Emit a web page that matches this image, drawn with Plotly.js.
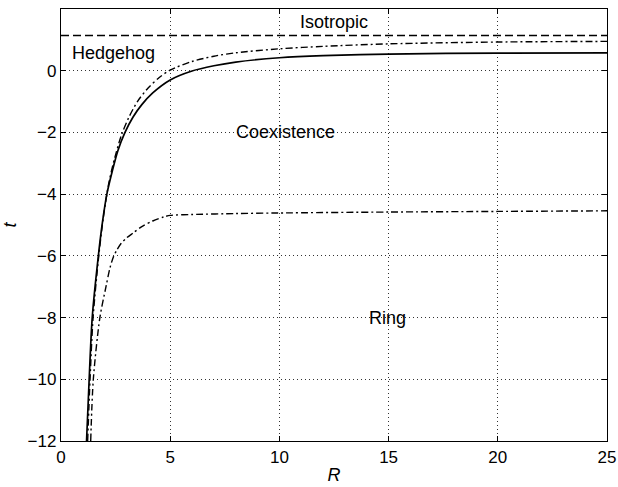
<!DOCTYPE html>
<html>
<head>
<meta charset="utf-8">
<script src="https://cdn.plot.ly/plotly-3.0.1.min.js"></script>
<style>
  html, body { margin: 0; padding: 0; background: #fff; }
  #chart { width: 618px; height: 487px; }
</style>
</head>
<body>
<div id="chart"></div>
<script>
// Phase diagram in the (R, t) plane: boundaries between Hedgehog, Coexistence, Ring and Isotropic.

// Isotropic transition (horizontal dashed line)
const isoR = [0, 25];
const isoT = [1.14, 1.14];

// Hedgehog / Coexistence boundary (solid)
const solidR = [1.17, 1.29, 1.43, 1.71, 1.9, 2.1, 2.35, 2.6, 2.93, 3.3, 3.7, 4.2, 5.0, 6.0, 7.0, 8.0, 10, 12, 15, 20, 25];
const solidT = [-12, -10, -8, -6, -4.9, -4.0, -3.25, -2.6, -2.0, -1.5, -1.1, -0.72, -0.3, -0.01, 0.16, 0.28, 0.42, 0.49, 0.54, 0.57, 0.58];

// Upper dash-dot boundary
const upperR = [1.22, 1.33, 1.47, 1.73, 1.95, 2.2, 2.47, 2.77, 3.1, 3.5, 4.0, 4.5, 5.0, 6.0, 7.0, 8.0, 10, 12, 15, 20, 25];
const upperT = [-12, -10, -8, -6, -4.7, -3.6, -2.8, -2.08, -1.52, -1.0, -0.55, -0.22, 0.02, 0.3, 0.47, 0.58, 0.71, 0.79, 0.87, 0.93, 0.95];

// Coexistence / Ring boundary (lower dash-dot)
const ringR = [1.36, 1.48, 1.78, 2.06, 2.24, 2.39, 2.55, 2.75, 3.0, 3.3, 3.7, 4.2, 4.7, 5.0, 6.0, 8.0, 10, 15, 20, 25];
const ringT = [-12, -10, -8, -7, -6.4, -6.05, -5.82, -5.6, -5.42, -5.26, -5.05, -4.87, -4.74, -4.69, -4.66, -4.63, -4.61, -4.58, -4.56, -4.54];

// Region labels
const regionNames = ['Isotropic', 'Hedgehog', 'Coexistence', 'Ring'];
const regionR = [12.48, 2.42, 10.29, 14.95];
const regionT = [1.59, 0.58, -2.0, -8.0];

const xTicks = [0, 5, 10, 15, 20, 25];
const yTicks = [-12, -10, -8, -6, -4, -2, 0, 2];

const font = 'Liberation Sans, Arial, Helvetica, sans-serif';
const dashDot = '7px,3px,2px,3px';

const traces = [
  { x: isoR, y: isoT, mode: 'lines', line: { color: '#000', width: 1.6, dash: '8px,4px' }, hoverinfo: 'skip' },
  { x: solidR, y: solidT, mode: 'lines', line: { color: '#000', width: 1.7, shape: 'spline', smoothing: 0.8 }, hoverinfo: 'skip' },
  { x: upperR, y: upperT, mode: 'lines', line: { color: '#000', width: 1.4, dash: dashDot, shape: 'spline', smoothing: 0.8 }, hoverinfo: 'skip' },
  { x: ringR, y: ringT, mode: 'lines', line: { color: '#000', width: 1.4, dash: dashDot, shape: 'spline', smoothing: 0.8 }, hoverinfo: 'skip' }
];

const axisCommon = {
  showline: true, linecolor: '#000', linewidth: 1.2, mirror: 'ticks',
  ticks: 'inside', ticklen: 5, tickcolor: '#000', tickwidth: 1.2,
  showgrid: true, gridcolor: '#333', griddash: '1px,3px', gridwidth: 1,
  zeroline: false,
  tickfont: { family: font, size: 17, color: '#000' }
};

const layout = {
  width: 618, height: 487,
  margin: { l: 61, r: 11, t: 9, b: 46 },
  paper_bgcolor: '#fff', plot_bgcolor: '#fff',
  showlegend: false,
  xaxis: Object.assign({}, axisCommon, {
    range: [0, 25], tickvals: xTicks, ticktext: xTicks.map(String),
    title: { text: '<i>R</i>', font: { family: font, size: 18, color: '#000' }, standoff: 2 }
  }),
  yaxis: Object.assign({}, axisCommon, {
    range: [-12, 2], tickvals: yTicks, ticktext: yTicks.map(v => v < 0 ? '\u2212' + Math.abs(v) : String(v)),
    title: { text: '<i>t</i>', font: { family: font, size: 18, color: '#000' }, standoff: 8 }
  }),
  annotations: regionNames.map((name, i) => ({
    x: regionR[i], y: regionT[i], xref: 'x', yref: 'y',
    text: name, showarrow: false, xanchor: 'center', yanchor: 'middle',
    font: { family: font, size: 18, color: '#000' }
  }))
};

Plotly.newPlot('chart', traces, layout, { staticPlot: true, displayModeBar: false });
</script>
</body>
</html>
